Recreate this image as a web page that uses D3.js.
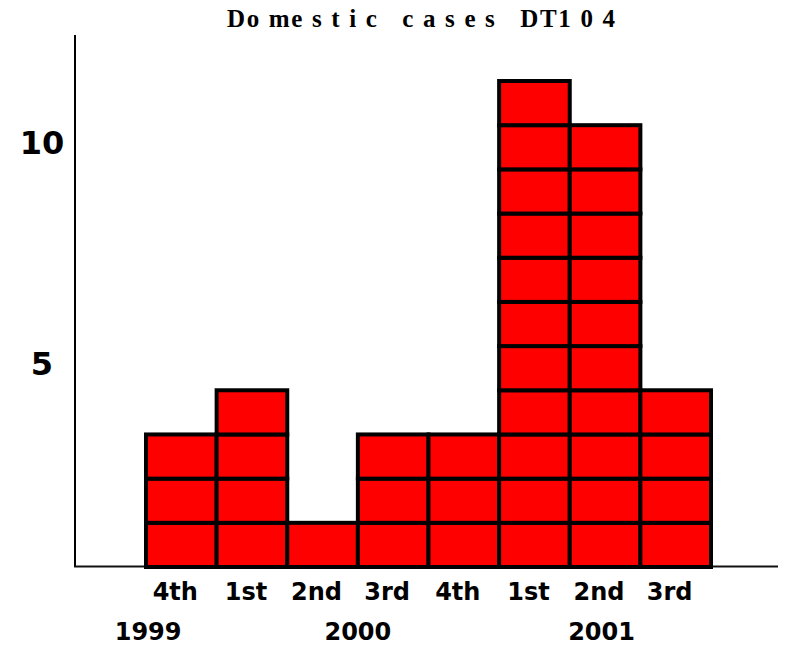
<!DOCTYPE html>
<html>
<head>
<meta charset="utf-8">
<script src="https://cdn.jsdelivr.net/npm/d3@7"></script>
<style>
  body { margin: 0; background: #fff; }
  svg { display: block; }
  .lbl { font-family: "DejaVu Sans", Arial, sans-serif; font-weight: bold; fill: #000; }
</style>
</head>
<body>
<div id="chart"></div>
<script>
// data
var quarters = ["4th", "1st", "2nd", "3rd", "4th", "1st", "2nd", "3rd"];
var cases = [3, 4, 1, 3, 3, 11, 10, 4];
var years = ["1999", "2000", "2001"];
// where each year label sits, in bar index units (centre)
var yearAt = [-0.47, 2.5, 5.95];
var yTicks = [5, 10];

var width = 789, height = 647;

var svg = d3.select("#chart").append("svg")
  .attr("width", width)
  .attr("height", height);

// scales
var x = d3.scaleBand()
  .domain(d3.range(cases.length))
  .range([146, 711])
  .padding(0);

var y = d3.scaleLinear()
  .domain([0, 11])
  .range([567, 81]);

// bar index -> centre x, for labels that sit between bars
var xIdx = d3.scaleLinear()
  .domain([0, cases.length - 1])
  .range([x(0) + x.bandwidth() / 2, x(cases.length - 1) + x.bandwidth() / 2]);

// title
svg.append("text")
  .attr("x", 227)
  .attr("y", 27)
  .attr("textLength", 388)
  .attr("lengthAdjust", "spacing")
  .style("white-space", "pre")
  .style("font-family", "'Liberation Serif', 'Times New Roman', serif")
  .style("font-weight", "bold")
  .style("font-size", "25px")
  .text("Do me s t i c   c a s e s   DT1 0 4");

// axes lines
svg.append("line")
  .attr("x1", 75).attr("x2", 75)
  .attr("y1", 35).attr("y2", 567)
  .attr("stroke", "#000").attr("stroke-width", 2);

svg.append("line")
  .attr("x1", 74).attr("x2", 778)
  .attr("y1", 566.5).attr("y2", 566.5)
  .attr("stroke", "#111").attr("stroke-width", 2);

// bars, one unit cell per case
var bars = svg.selectAll("g.bar")
  .data(cases)
  .enter().append("g")
  .attr("class", "bar");

bars.selectAll("rect")
  .data(function(d, i) {
    return d3.range(d).map(function(k) { return { i: i, k: k }; });
  })
  .enter().append("rect")
  .attr("x", function(d) { return x(d.i); })
  .attr("y", function(d) { return y(d.k + 1); })
  .attr("width", x.bandwidth())
  .attr("height", function(d) { return y(d.k) - y(d.k + 1); })
  .attr("fill", "#ff0000")
  .attr("stroke", "#000")
  .attr("stroke-width", 4);

// y labels
svg.selectAll("text.ytick")
  .data(yTicks)
  .enter().append("text")
  .attr("class", "lbl ytick")
  .attr("x", 42)
  .attr("y", function(d) { return y(d) + 18; })
  .attr("text-anchor", "middle")
  .attr("dominant-baseline", "central")
  .style("font-size", "32px")
  .text(function(d) { return d; });

// quarter labels
svg.selectAll("text.q")
  .data(quarters)
  .enter().append("text")
  .attr("class", "lbl q")
  .attr("x", function(d, i) { return x(i) + x.bandwidth() / 2 - 6; })
  .attr("y", 600)
  .attr("text-anchor", "middle")
  .style("font-size", "24px")
  .text(function(d) { return d; });

// year labels
svg.selectAll("text.yr")
  .data(years)
  .enter().append("text")
  .attr("class", "lbl yr")
  .attr("x", function(d, i) { return xIdx(yearAt[i]); })
  .attr("y", 640)
  .attr("text-anchor", "middle")
  .style("font-size", "24px")
  .text(function(d) { return d; });
</script>
</body>
</html>
